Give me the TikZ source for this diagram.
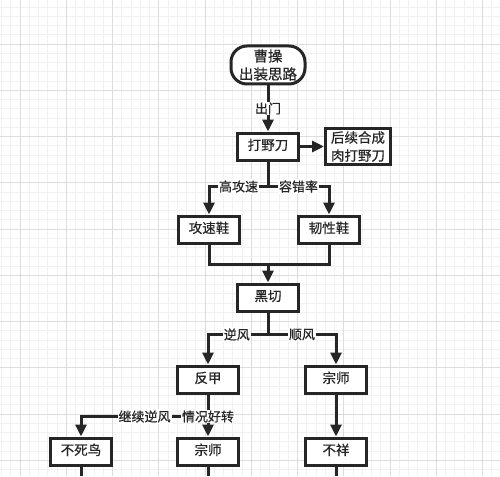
\documentclass[tikz,border=0pt]{standalone}
\usepackage{fontspec}
\setmainfont{Noto Sans CJK SC}[FakeBold=0.6]
\usetikzlibrary{arrows.meta,positioning}
\definecolor{gridmin}{HTML}{F1F1F1}
\definecolor{gridmaj}{HTML}{DDDDDD}
\definecolor{ink}{HTML}{262626}
\tikzset{
  cbase/.style={draw=ink, line width=3pt, fill=white, text=ink, align=center, font=\fontsize{13.5}{18}\selectfont, inner sep=2pt},
  cbox/.style={cbase, text height=10pt, text depth=3pt, minimum height=27pt, minimum width=61pt},
  cstart/.style={cbase, rounded corners=16pt, font=\fontsize{14.5}{18}\selectfont, inner sep=2pt, minimum width=74pt, minimum height=38pt},
  carr/.style={-{Triangle[length=12pt,width=11pt]}, line width=3pt, draw=ink},
  cline/.style={line width=3pt, draw=ink},
  clbl/.style={fill=white, text=ink, inner sep=1pt, font=\fontsize{13}{15}\selectfont}
}

\begin{document}
\begin{tikzpicture}[x=1pt, y=-1pt]
\useasboundingbox (0,0) rectangle (500,476);
\fill[white] (0,0) rectangle (500,476);
% grid paper
\begin{scope}
\clip (0,0) rectangle (500,476);
\foreach \i in {0,...,53} \draw[gridmin, line width=0.6pt] ({1.5+\i*9.25},0) -- ++(0,476);
\foreach \i in {0,...,51} \draw[gridmin, line width=0.6pt] (0,{7+\i*9.25}) -- ++(500,0);
\foreach \i in {0,...,10} \draw[gridmaj, line width=0.8pt] ({20+\i*46.25},0) -- ++(0,476);
\foreach \i in {-1,...,9} \draw[gridmaj, line width=0.8pt] (0,{44+\i*46.25}) -- ++(500,0);
\end{scope}

\node[cstart] (chuzhuang) at (268,65) {曹操\\出装思路};
\node[cbox, below=46pt of chuzhuang] (daye) {打野刀};
\node[cbase, right=24pt of daye, minimum width=65pt, minimum height=36pt] (rou) {后续合成\\肉打野刀};
\node[cbox, below=53pt of daye, xshift=-59pt] (gongsu) {攻速鞋};
\node[cbox, below=53pt of daye, xshift=61pt] (renxing) {韧性鞋};
\node[cbox, below=121pt of daye] (heiqie) {黑切};
\node[cbox, below=52pt of heiqie, xshift=-60pt] (fanjia) {反甲};
\node[cbox, below=52pt of heiqie, xshift=68pt] (zongshiR) {宗师};
\node[cbox, below=42pt of fanjia, xshift=-127pt] (busi) {不死鸟};
\node[cbox, below=42pt of fanjia] (zongshiL) {宗师};
\node[cbox, below=42pt of zongshiR] (buxiang) {不祥};

\coordinate (s1) at ([yshift=-25pt]daye.south);
\coordinate (j1) at ([yshift=18pt]heiqie.north);
\coordinate (s2) at ([yshift=-22pt]heiqie.south);
\coordinate (s3) at ([yshift=-22pt]fanjia.south);
\coordinate (bot) at (0,476);

\draw[carr] (chuzhuang) -- node[clbl] {出门} (daye);
\draw[carr] (daye) -- (rou);
\draw[cline] (daye.south) -- (s1);
\draw[carr] (s1) -| node[clbl, pos=0.25] {高攻速} (gongsu.north);
\draw[carr] (s1) -| node[clbl, pos=0.25] {容错率} (renxing.north);
\draw[cline] (gongsu.south) |- (j1);
\draw[cline] (renxing.south) |- (j1);
\draw[carr] (j1) -- (heiqie.north);
\draw[cline] (heiqie.south) -- (s2);
\draw[carr] (s2) -| node[clbl, pos=0.26] {逆风} (fanjia.north);
\draw[carr] (s2) -| node[clbl, pos=0.25] {顺风} (zongshiR.north);
\draw[cline] (fanjia.south) -- (s3);
\draw[carr] (s3) -| node[clbl, pos=0.25] {继续逆风} (busi.north);
\draw[carr] (s3) -- node[clbl, pos=0] {情况好转} (zongshiL.north);
\draw[carr] (zongshiR) -- (buxiang);
\draw[cline] (busi.south) -- (busi.south |- bot);
\draw[cline] (zongshiL.south) -- (zongshiL.south |- bot);
\draw[cline] (buxiang.south) -- (buxiang.south |- bot);
\end{tikzpicture}
\end{document}
